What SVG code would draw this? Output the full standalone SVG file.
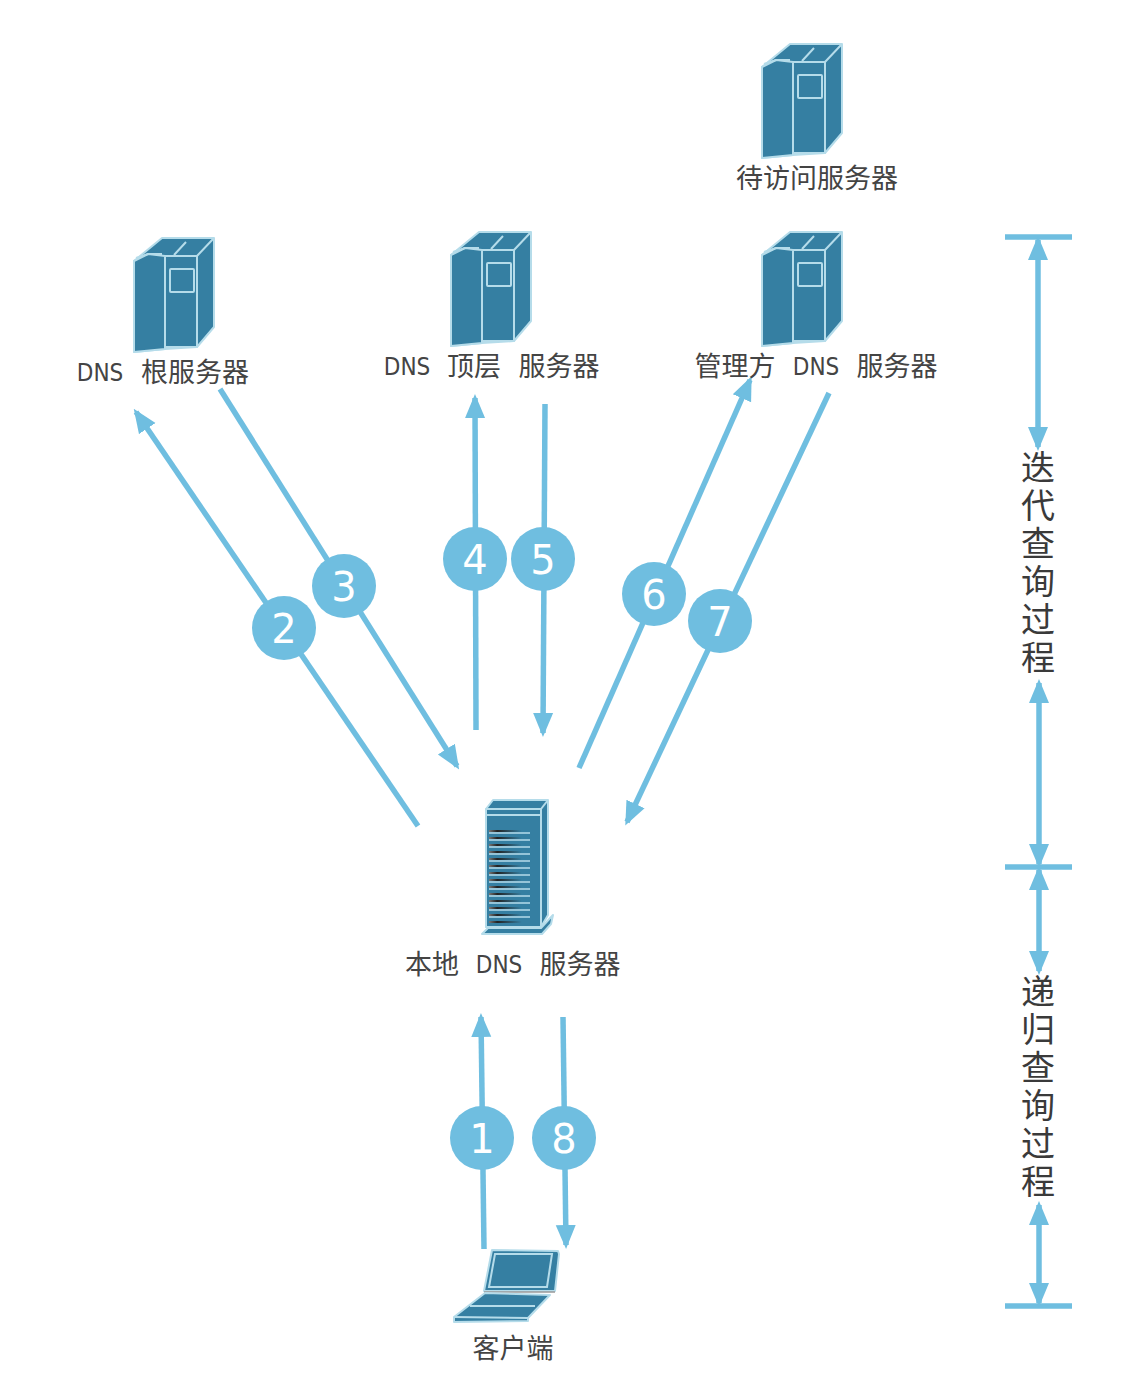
<svg xmlns="http://www.w3.org/2000/svg" width="1122" height="1382" viewBox="0 0 1122 1382">
<style>
text{font-family:"DejaVu Sans","Noto Sans CJK SC",sans-serif;fill:#444;font-size:27px;text-anchor:middle}
.lat{font-family:"DejaVu Sans Condensed","DejaVu Sans",sans-serif;font-size:24px}
.v{font-size:34px;fill:#3a3a3a}
.num{font-size:40px;fill:#fff}
.c{fill:#6fbee0}
.l{stroke:#6fbee0;stroke-width:5.5;fill:none}
.b{fill:#357fa2;stroke:#b5dcea;stroke-width:2;stroke-linejoin:round}
.w{fill:none;stroke:#b5dcea;stroke-width:2}
</style>
<defs>
<marker id="a" markerUnits="userSpaceOnUse" markerWidth="24" markerHeight="22" refX="20" refY="10" orient="auto-start-reverse" viewBox="0 0 24 20"><path d="M0 0L24 10L0 20z" fill="#6fbee0"/></marker>
<g id="srv">
<path class="b" d="M762 67L790 44L842 44L842 133L825 153L793 155L762 158z"/>
<path class="w" d="M825 62L842 44M802 61L814 48"/>
<path class="b" d="M793 62H825V153H793z"/>
<path class="b" d="M762 67L776 60L793 62L793 155L762 158z"/>
<path class="w" d="M764 64L776 60H790"/>
<rect class="w" x="798" y="75" width="24" height="23" rx="1"/>
</g>
<linearGradient id="sl" x1="0" x2="1"><stop offset="0" stop-color="#777"/><stop offset=".2" stop-color="#222"/><stop offset=".8" stop-color="#357fa2"/></linearGradient>
</defs>

<g id="connectors">
<path class="l" d="M418 826L136 412" marker-end="url(#a)"/>
<path class="l" d="M220 389L457 766" marker-end="url(#a)"/>
<path class="l" d="M476 730L475 398" marker-end="url(#a)"/>
<path class="l" d="M545 404L543 733" marker-end="url(#a)"/>
<path class="l" d="M579 768L750 380" marker-end="url(#a)"/>
<path class="l" d="M829 393L627 822" marker-end="url(#a)"/>
<path class="l" d="M484 1249L481 1017" marker-end="url(#a)"/>
<path class="l" d="M563 1017L566 1245" marker-end="url(#a)"/>
<path class="l" d="M1005 237H1072M1005 867H1072M1005 1306H1072"/>
<path class="l" d="M1038 240L1038 447" marker-start="url(#a)" marker-end="url(#a)"/>
<path class="l" d="M1039 683L1039 864" marker-start="url(#a)" marker-end="url(#a)"/>
<path class="l" d="M1039 870L1039 971" marker-start="url(#a)" marker-end="url(#a)"/>
<path class="l" d="M1039 1205L1039 1303" marker-start="url(#a)" marker-end="url(#a)"/>
</g>

<g id="n-target"><use href="#srv"/><text x="817" y="188">待访问服务器</text></g>
<g id="n-root"><use href="#srv" x="-628" y="194"/><text class="lat" x="100" y="381">DNS</text><text x="195" y="382">根服务器</text></g>
<g id="n-top"><use href="#srv" x="-311" y="188"/><text class="lat" x="407" y="375">DNS</text><text x="474" y="376">顶层</text><text x="559" y="376">服务器</text></g>
<g id="n-auth"><use href="#srv" y="188"/><text x="735" y="376">管理方</text><text class="lat" x="816" y="375">DNS</text><text x="897" y="376">服务器</text></g>

<g id="n-local">
<path class="b" d="M486 809L493 800L548 800L548 915L541 927L486 927z"/>
<path class="w" d="M541 809L548 800"/>
<rect class="b" x="486" y="809" width="55" height="118"/>
<path class="w" d="M486 815H541"/>
<path class="b" d="M482 934L488 928L541 928L553 915L551 924L542 934z"/>
<g fill="url(#sl)">
<rect x="489" y="830" width="41" height="2"/><rect x="489" y="837" width="41" height="2"/><rect x="489" y="844" width="41" height="2"/><rect x="489" y="851" width="41" height="2"/><rect x="489" y="858" width="41" height="2"/><rect x="489" y="865" width="41" height="2"/><rect x="489" y="872" width="41" height="2"/><rect x="489" y="879" width="41" height="2"/><rect x="489" y="886" width="41" height="2"/><rect x="489" y="893" width="41" height="2"/><rect x="489" y="900" width="41" height="2"/><rect x="489" y="907" width="41" height="2"/><rect x="489" y="914" width="41" height="2"/><rect x="489" y="921" width="41" height="2"/>
</g>
<path stroke="#b5dcea" stroke-width="1.6" d="M489 833H530M489 840H530M489 847H530M489 854H530M489 861H530M489 868H530M489 875H530M489 882H530M489 889H530M489 896H530M489 903H530M489 910H530M489 917H530"/>
<text x="432" y="974">本地</text><text class="lat" x="499" y="973">DNS</text><text x="580" y="974">服务器</text>
</g>

<g id="n-client">
<path class="b" d="M492 1250L558 1251L559 1254L555 1291L484 1291z"/>
<path class="w" d="M495 1254L552 1254L547 1287L489 1287z"/>
<path d="M484 1292H555" stroke="#999" stroke-width="1.5"/>
<path class="b" d="M454 1317L485 1293L550 1295L528 1318L528 1321L454 1322z"/>
<path class="w" d="M454 1317L528 1318M470 1306H535"/>
<text x="513" y="1358">客户端</text>
</g>

<g id="badges">
<circle class="c" cx="482" cy="1138" r="32"/><text class="num" x="482" y="1153">1</text>
<circle class="c" cx="284" cy="628" r="32"/><text class="num" x="284" y="643">2</text>
<circle class="c" cx="344" cy="586" r="32"/><text class="num" x="344" y="601">3</text>
<circle class="c" cx="475" cy="559" r="32"/><text class="num" x="475" y="574">4</text>
<circle class="c" cx="543" cy="559" r="32"/><text class="num" x="543" y="574">5</text>
<circle class="c" cx="654" cy="594" r="32"/><text class="num" x="654" y="609">6</text>
<circle class="c" cx="720" cy="621" r="32"/><text class="num" x="720" y="636">7</text>
<circle class="c" cx="564" cy="1138" r="32"/><text class="num" x="564" y="1153">8</text>
</g>

<g id="labels">
<text class="v" x="1038" y="480">迭</text><text class="v" x="1038" y="518">代</text><text class="v" x="1038" y="556">查</text><text class="v" x="1038" y="594">询</text><text class="v" x="1038" y="632">过</text><text class="v" x="1038" y="670">程</text>
<text class="v" x="1038" y="1004">递</text><text class="v" x="1038" y="1042">归</text><text class="v" x="1038" y="1080">查</text><text class="v" x="1038" y="1118">询</text><text class="v" x="1038" y="1156">过</text><text class="v" x="1038" y="1194">程</text>
</g>
</svg>
